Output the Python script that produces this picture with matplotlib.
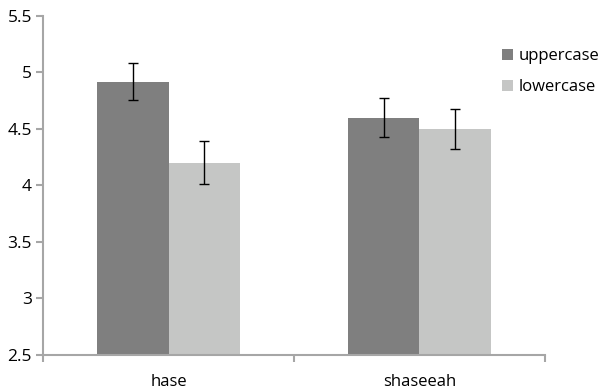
import numpy as np
import matplotlib.pyplot as plt

plt.rcParams['font.family'] = ['Open Sans', 'DejaVu Sans']

categories = ['hase', 'shaseeah']
series_names = ['uppercase', 'lowercase']
upper_vals = [4.92, 4.60]
upper_err = [0.16, 0.17]
lower_vals = [4.20, 4.50]
lower_err = [0.19, 0.18]

dark = '#7f7f7f'
light = '#c5c6c5'
axis_grey = '#a6a6a6'

fig = plt.figure(figsize=(6, 3.92), dpi=100)
ax = fig.add_axes([0.0717, 0.0944, 0.8366, 0.8648])

x = np.arange(len(categories))
w = 0.285
err_kw = dict(ecolor='black', elinewidth=1.0, capsize=3.5, capthick=1.0)
ax.bar(x - w / 2, upper_vals, w, yerr=upper_err, color=dark, label=series_names[0],
       error_kw=err_kw, zorder=2)
ax.bar(x + w / 2, lower_vals, w, yerr=lower_err, color=light, label=series_names[1],
       error_kw=err_kw, zorder=2)

ax.set_xlim(-0.5, 1.5)
ax.set_ylim(2.5, 5.5)
ax.set_yticks(np.arange(2.5, 5.51, 0.5))
ax.set_yticklabels(['2.5', '3', '3.5', '4', '4.5', '5', '5.5'])
ax.set_xticks(x)
ax.set_xticklabels(categories)
ax.set_xticks([-0.5, 0.5, 1.5], minor=True)

for s in ['top', 'right']:
    ax.spines[s].set_visible(False)
for s in ['left', 'bottom']:
    ax.spines[s].set_color(axis_grey)
    ax.spines[s].set_linewidth(1.5)

ax.tick_params(axis='x', which='major', length=0, pad=14, labelsize=12)
ax.tick_params(axis='x', which='minor', length=5, width=1.5, color=axis_grey, direction='out')
ax.tick_params(axis='y', length=5, width=1.5, color=axis_grey, direction='out', labelsize=12.5, pad=3)

ax.legend(loc='upper left', bbox_to_anchor=(0.915, 0.905), frameon=False, fontsize=12,
          handlelength=0.65, handleheight=0.65, handletextpad=0.3, labelspacing=0.9,
          borderaxespad=0, borderpad=0)

fig.savefig('out.png', dpi=100)
